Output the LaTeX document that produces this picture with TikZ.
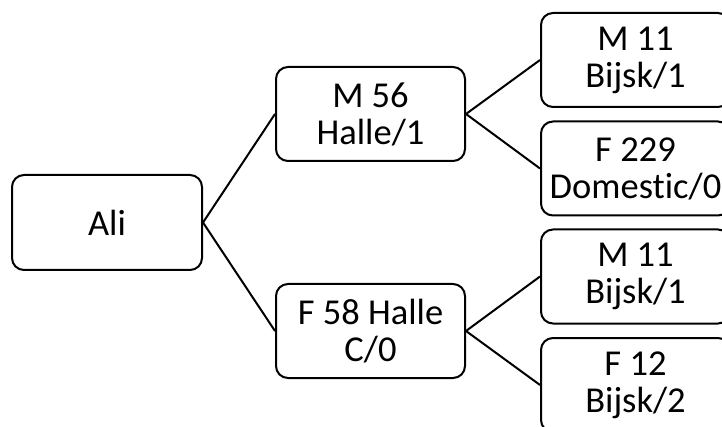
\documentclass[tikz,border=0pt]{standalone}
\usepackage{fontspec}
\setmainfont{Carlito}[Ligatures=NoCommon]
\begin{document}
\begin{tikzpicture}[x=1pt,y=-1pt,
  box/.style={draw=black, line width=2pt, rounded corners=12pt, fill=white,
    minimum width=189pt, minimum height=94pt, align=center, inner sep=0pt,
    font=\fontsize{36.5}{37}\selectfont},
  link/.style={draw=black, line width=2pt}]
\useasboundingbox (0,0) rectangle (722,427);
\clip (0,0) rectangle (722,427);
\node[box, minimum width=190pt, minimum height=95pt] (ali) at (107,222.5) {Ali};
\node[box] (m56) at (370.5,114) {M 56\\Halle/1};
\node[box] (f58) at (370.5,331) {F 58 Halle\\C/0};
\node[box] (m11a) at (635.5,60) {M 11\\Bijsk/1};
\node[box] (f229) at (635.5,168.5) {F 229\\Domestic/0};
\node[box] (m11b) at (635.5,276.5) {M 11\\Bijsk/1};
\node[box] (f12) at (635.5,385) {F 12\\Bijsk/2};
\draw[link] (ali.east) -- (m56.west);
\draw[link] (ali.east) -- (f58.west);
\draw[link] (m56.east) -- (m11a.west);
\draw[link] (m56.east) -- (f229.west);
\draw[link] (f58.east) -- (m11b.west);
\draw[link] (f58.east) -- (f12.west);
\end{tikzpicture}
\end{document}
